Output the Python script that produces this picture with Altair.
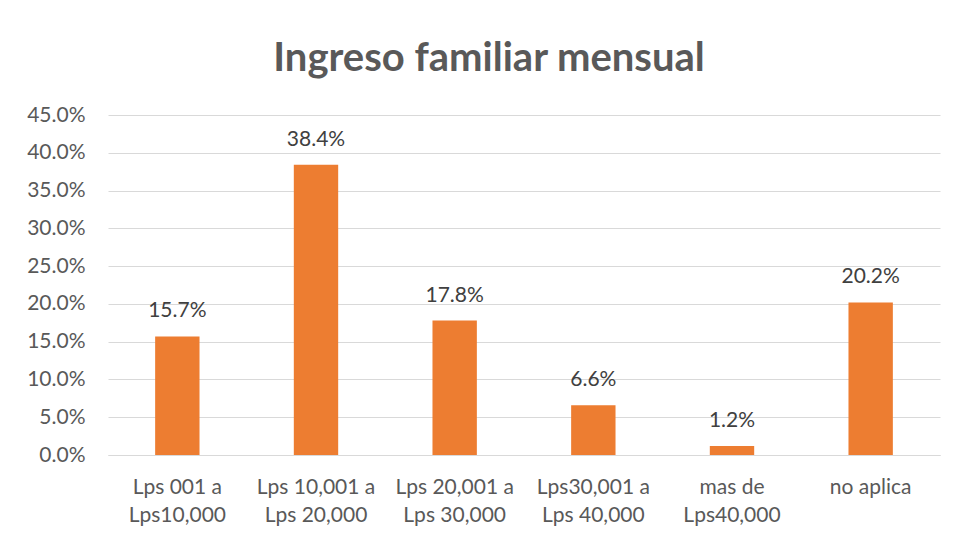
import altair as alt
import pandas as pd

categories = [
    "Lps 001 a|Lps10,000",
    "Lps 10,001 a|Lps 20,000",
    "Lps 20,001 a|Lps 30,000",
    "Lps30,001 a|Lps 40,000",
    "mas de|Lps40,000",
    "no aplica",
]
values = [0.157, 0.384, 0.178, 0.066, 0.012, 0.202]
y_ticks = [0, 0.05, 0.10, 0.15, 0.20, 0.25, 0.30, 0.35, 0.40, 0.45]

df = pd.DataFrame({"cat": categories, "val": values})

FONT = "Lato"

x = alt.X(
    "cat:N",
    sort=categories,
    title=None,
    scale=alt.Scale(paddingInner=0.68, paddingOuter=0.34),
    axis=alt.Axis(
        labelExpr="split(datum.value, '|')",
        labelAngle=0,
        labelFont=FONT,
        labelFontSize=21,
        labelColor="#595959",
        labelLineHeight=28,
        labelPadding=21,
        ticks=False,
        domainColor="#d9d9d9",
        domainWidth=1,
        grid=False,
    ),
)
y = alt.Y(
    "val:Q",
    title=None,
    scale=alt.Scale(domain=[0, 0.45], nice=False),
    axis=alt.Axis(
        values=y_ticks,
        format=".1%",
        labelFont=FONT,
        labelFontSize=21,
        labelColor="#595959",
        labelPadding=23,
        ticks=False,
        domain=False,
        grid=True,
        gridColor="#d9d9d9",
        gridWidth=1,
    ),
)

bars = alt.Chart(df).mark_bar(color="#ED7D31").encode(x=x, y=y)
labels = alt.Chart(df).mark_text(
    baseline="alphabetic", dy=-19, font=FONT, fontSize=21, color="#404040"
).encode(x=x, y=y, text=alt.Text("val:Q", format=".1%"))

chart = (
    alt.layer(bars, labels)
    .properties(
        width=832,
        height=340,
        autosize=alt.AutoSizeParams(type="none"),
        padding={"left": 100, "top": 107, "right": 6, "bottom": 73},
        view=alt.ViewBackground(strokeWidth=0, strokeOpacity=0),
        title=alt.TitleParams(
            "Ingreso familiar mensual",
            font=FONT,
            fontSize=40,
            fontWeight="bold",
            color="#595959",
            anchor="middle",
            baseline="alphabetic",
            offset=45,
            dx=-35,
            dy=52,
        ),
    )
    .configure_view(strokeOpacity=0, strokeWidth=0)
    .configure(background="white")
)

chart.save("out.html", embed_options={"renderer": "svg", "actions": False})
